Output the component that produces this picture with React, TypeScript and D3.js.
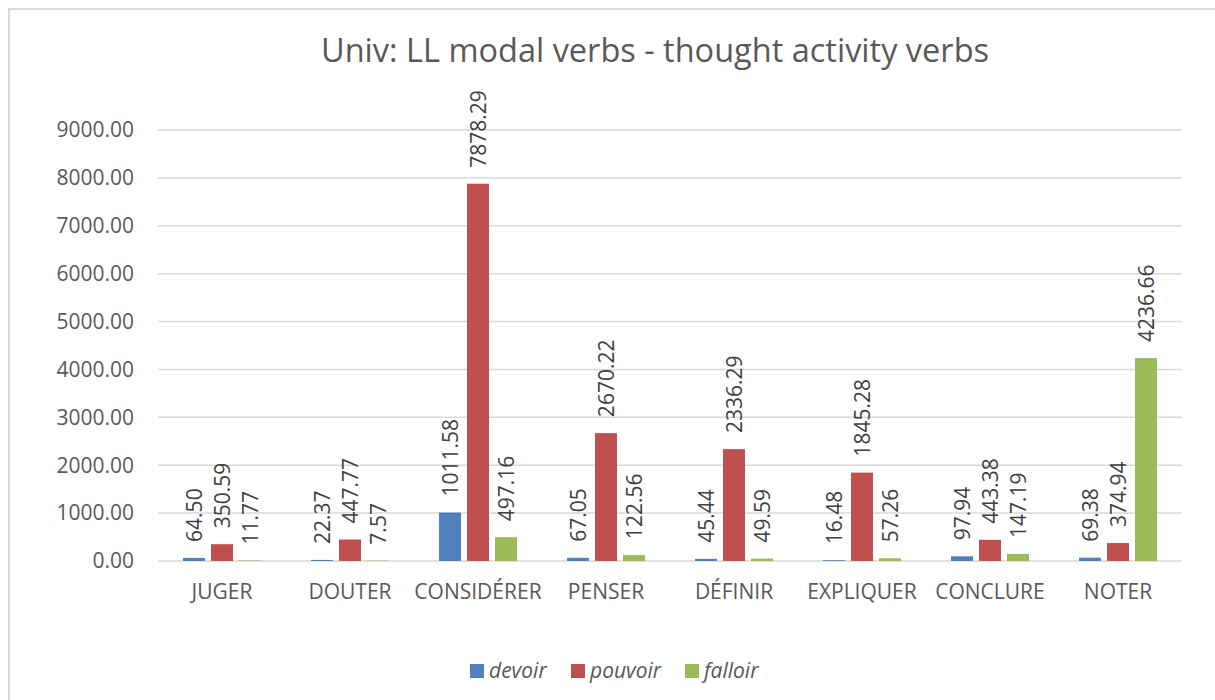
import React from "react";
import * as d3 from "d3";

const categories = ["JUGER", "DOUTER", "CONSIDÉRER", "PENSER", "DÉFINIR", "EXPLIQUER", "CONCLURE", "NOTER"];
const seriesNames = ["devoir", "pouvoir", "falloir"];
const devoir = [64.5, 22.37, 1011.58, 67.05, 45.44, 16.48, 97.94, 69.38];
const pouvoir = [350.59, 447.77, 7878.29, 2670.22, 2336.29, 1845.28, 443.38, 374.94];
const falloir = [11.77, 7.57, 497.16, 122.56, 49.59, 57.26, 147.19, 4236.66];
const yTicks = [0, 1000, 2000, 3000, 4000, 5000, 6000, 7000, 8000, 9000];
const colors = ["#4F81BD", "#C0504D", "#9BBB59"];
const title = "Univ: LL modal verbs - thought activity verbs";

export default function App() {
  const W = 1215, H = 700;
  const left = 158, right = 1182, top = 130, bottom = 561;
  const font = "'Open Sans', sans-serif";
  const txt = "#595959";
  const values = [devoir, pouvoir, falloir];

  const x0 = d3.scaleBand<string>().domain(categories).range([left, right]).padding(0);
  const x1 = d3.scaleBand<string>().domain(seriesNames).range([25, 103]).paddingInner(6 / 28).paddingOuter(0);
  const y = d3.scaleLinear().domain([0, 9000]).range([bottom, top]);

  return (
    <svg width={W} height={H} style={{ position: "absolute", left: 0, top: 0, background: "#fff" }} fontFamily={font}>
      <rect x={0} y={0} width={W} height={H} fill="#fff" />
      <rect x={9} y={9} width={W + 20} height={H + 20} fill="none" stroke="#d9d9d9" strokeWidth={2} />
      <text x={655} y={62} textAnchor="middle" fontSize={32.5} fill={txt}>{title}</text>
      {yTicks.map((t) => (
        <g key={t}>
          <line x1={left} x2={right} y1={y(t)} y2={y(t)} stroke="#d9d9d9" strokeWidth={1.5} />
          <text x={134} y={y(t)} dy="0.35em" textAnchor="end" fontSize={21} fill={txt}>{t.toFixed(2)}</text>
        </g>
      ))}
      {categories.map((c, i) => (
        <g key={c} transform={`translate(${x0(c)},0)`}>
          {seriesNames.map((s, j) => {
            const v = values[j][i];
            const bx = x1(s)!;
            const bw = x1.bandwidth();
            const cx = bx + bw / 2;
            const ty = y(v) - 16;
            return (
              <g key={s}>
                <rect x={bx} y={y(v)} width={bw} height={y(0) - y(v)} fill={colors[j]} />
                <text transform={`translate(${cx},${ty}) rotate(-90)`} textAnchor="start" dominantBaseline="central" fontSize={21} fill="#404040">{v.toFixed(2)}</text>
              </g>
            );
          })}
          <text x={x0.bandwidth() / 2} y={599} textAnchor="middle" fontSize={21} fill={txt}>{c}</text>
        </g>
      ))}
      {seriesNames.map((s, j) => {
        const lx = [470, 571, 685][j];
        return (
          <g key={s}>
            <rect x={lx} y={664} width={14} height={14} fill={colors[j]} />
            <text x={lx + 19} y={678} fontSize={21} fontStyle="italic" fill={txt}>{s}</text>
          </g>
        );
      })}
    </svg>
  );
}
